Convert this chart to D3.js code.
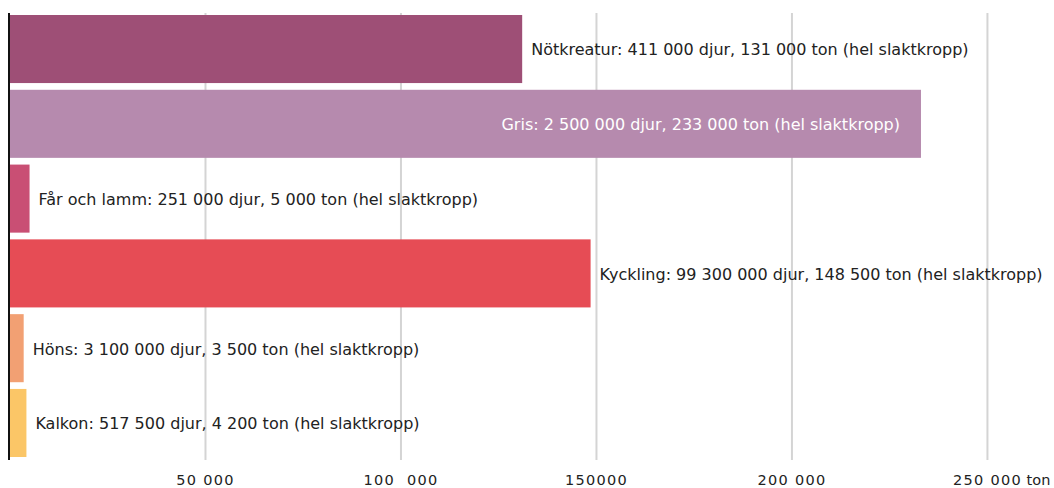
<!DOCTYPE html>
<html>
<head>
<meta charset="utf-8">
<script src="https://cdn.jsdelivr.net/npm/d3@7"></script>
<style>
  body { margin: 0; background: #fff; }
  svg text { font-family: "DejaVu Sans", "Noto Sans", sans-serif; fill: #222; }
</style>
</head>
<body>
<script>
const animals = ["Nötkreatur", "Gris", "Får och lamm", "Kyckling", "Höns", "Kalkon"];
const heads = ["411 000", "2 500 000", "251 000", "99 300 000", "3 100 000", "517 500"];
const tons = [131000, 233000, 5000, 148500, 3500, 4200];
const tonLabels = ["131 000", "233 000", "5 000", "148 500", "3 500", "4 200"];
const colors = ["#9e4f76", "#b68aae", "#c94f74", "#e64c55", "#f2a073", "#fbc667"];
const tickValues = [50000, 100000, 150000, 200000, 250000];
const tickLabels = ["50 000", "100  000", "150000", "200 000", "250 000"];

var width = 1054, height = 488;

var svg = d3.select("body").append("svg")
    .attr("width", width)
    .attr("height", height);

var x = d3.scaleLinear().domain([0, 266000]).range([10, 1050]);
var y = d3.scaleBand().domain(animals).range([15, 457]).paddingInner(0.09).paddingOuter(0);

// grid lines
svg.append("g").selectAll("line")
    .data(tickValues)
    .join("line")
    .attr("x1", d => x(d)).attr("x2", d => x(d))
    .attr("y1", 13).attr("y2", 460)
    .attr("stroke", "#d4d4d4")
    .attr("stroke-width", 2);

// tick labels, number centred on the grid line
var ticks = svg.append("g").selectAll("text")
    .data(tickValues)
    .join("text")
    .attr("x", d => x(d))
    .attr("y", 485)
    .attr("font-size", 14.5)
    .style("letter-spacing", "1.3px")
    .style("white-space", "pre")
    .attr("text-anchor", "start");
ticks.append("tspan").text((d, i) => tickLabels[i]);
ticks.each(function(d, i) {
    var t = d3.select(this);
    var w = t.select("tspan").node().getComputedTextLength();
    t.attr("x", x(d) - w / 2);
    if (i == tickValues.length - 1) t.append("tspan").style("letter-spacing", "0px").text(" ton");
});

// bars
svg.append("g").selectAll("rect")
    .data(animals)
    .join("rect")
    .attr("x", x(0))
    .attr("y", d => y(d))
    .attr("width", (d, i) => x(tons[i]) - x(0))
    .attr("height", y.bandwidth())
    .attr("fill", (d, i) => colors[i]);

// labels (Gris sits inside its bar)
svg.append("g").selectAll("text")
    .data(animals)
    .join("text")
    .attr("font-size", 16)
    .attr("dy", "0.4em")
    .attr("y", d => y(d) + y.bandwidth() / 2)
    .attr("x", (d, i) => i == 1 ? x(tons[i]) - 21 : x(tons[i]) + 9)
    .attr("text-anchor", (d, i) => i == 1 ? "end" : "start")
    .style("fill", (d, i) => i == 1 ? "#fff" : "#222")
    .text((d, i) => d + ": " + heads[i] + " djur, " + tonLabels[i] + " ton (hel slaktkropp)");

// axis line
svg.append("line")
    .attr("x1", 9).attr("x2", 9)
    .attr("y1", 13).attr("y2", 460)
    .attr("stroke", "#111")
    .attr("stroke-width", 2);
</script>
</body>
</html>
